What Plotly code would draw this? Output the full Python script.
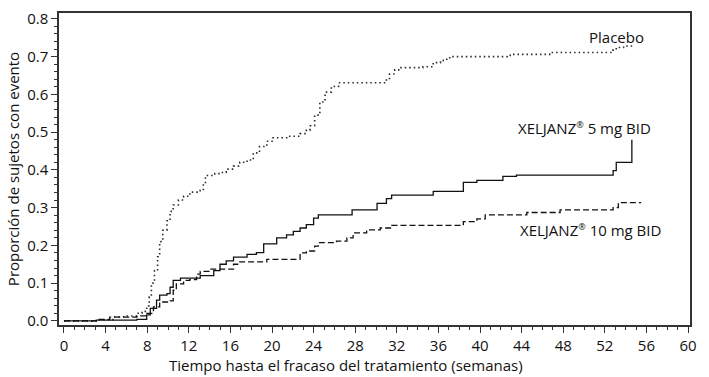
import plotly.graph_objects as go

# Placebo (dotted)
placebo_x = [0, 3.1, 4.7, 6.0, 7.0, 7.5, 7.95, 8.2, 8.4, 8.7, 9.0, 9.2, 9.5, 9.9, 10.2, 10.5, 11.0, 11.5,
             12.1, 13.1, 13.4, 13.6, 14.5, 15.0, 15.6, 16.3, 16.9, 17.6, 18.2, 18.8, 19.5, 20.1, 21.7, 22.7,
             23.3, 23.65, 24.1, 24.6, 25.1, 25.7, 26.4, 31.0, 31.3, 31.8, 32.3, 34.5, 35.5, 36.2, 36.8, 37.1,
             42.6, 42.9, 46.7, 52.8, 53.1, 53.8, 54.9]
placebo_y = [0, 0.003, 0.011, 0.013, 0.02, 0.025, 0.04, 0.063, 0.1, 0.133, 0.17, 0.21, 0.24, 0.265, 0.29,
             0.307, 0.32, 0.33, 0.341, 0.346, 0.363, 0.385, 0.39, 0.393, 0.402, 0.41, 0.42, 0.426, 0.445,
             0.462, 0.476, 0.485, 0.489, 0.496, 0.505, 0.517, 0.545, 0.58, 0.606, 0.621, 0.631, 0.642, 0.654,
             0.665, 0.671, 0.673, 0.684, 0.69, 0.697, 0.70, 0.703, 0.706, 0.711, 0.718, 0.724, 0.728, 0.728]

# XELJANZ 5 mg BID (solid)
x5_x = [0, 3.1, 7.0, 7.95, 8.3, 8.9, 9.2, 9.9, 10.2, 10.5, 11.2, 13.1, 14.4, 15.0, 15.6, 16.3, 17.6, 18.5,
        19.2, 20.45, 21.4, 22.05, 22.7, 23.3, 24.0, 24.45, 27.7, 30.1, 31.0, 31.5, 35.5, 38.4, 39.7, 42.2,
        43.5, 52.8, 53.1, 54.6]
x5_y = [0, 0.002, 0.004, 0.016, 0.033, 0.055, 0.068, 0.072, 0.089, 0.107, 0.113, 0.12, 0.133, 0.15, 0.159,
        0.169, 0.176, 0.181, 0.204, 0.22, 0.228, 0.237, 0.246, 0.255, 0.272, 0.281, 0.294, 0.311, 0.324,
        0.333, 0.343, 0.367, 0.372, 0.383, 0.386, 0.398, 0.42, 0.48]

# XELJANZ 10 mg BID (dashed)
x10_x = [0, 3.2, 4.4, 7.0, 7.95, 8.6, 9.2, 10.2, 10.5, 10.8, 11.5, 12.1, 12.75, 13.1, 14.0, 16.3, 16.9,
         19.5, 22.7, 23.3, 24.1, 24.45, 26.2, 27.2, 27.8, 29.1, 30.4, 31.5, 38.4, 39.7, 40.5, 44.5, 47.7,
         52.8, 53.3, 55.5]
x10_y = [0, 0.004, 0.01, 0.013, 0.02, 0.037, 0.05, 0.053, 0.081, 0.098, 0.107, 0.109, 0.124, 0.131, 0.137,
         0.15, 0.156, 0.163, 0.18, 0.185, 0.198, 0.207, 0.211, 0.22, 0.233, 0.241, 0.246, 0.253, 0.263,
         0.27, 0.281, 0.287, 0.294, 0.30, 0.313, 0.313]

x_ticks = list(range(0, 61, 4))
y_ticks = [0.0, 0.1, 0.2, 0.3, 0.4, 0.5, 0.6, 0.7, 0.8]

font_family = "Open Sans, Noto Sans, sans-serif"
reg = "<sup><span style='font-size:9px'>®</span></sup>"

fig = go.Figure()
fig.add_trace(go.Scatter(x=placebo_x, y=placebo_y, mode="lines", line_shape="hv",
                         line=dict(color="#2a2a2a", width=1.6, dash="1.5px,3px"), showlegend=False))
fig.add_trace(go.Scatter(x=x5_x, y=x5_y, mode="lines", line_shape="hv",
                         line=dict(color="#111111", width=1.3), showlegend=False))
fig.add_trace(go.Scatter(x=x10_x, y=x10_y, mode="lines", line_shape="hv",
                         line=dict(color="#111111", width=1.3, dash="6px,3px"), showlegend=False))

fig.add_annotation(x=53.1, y=0.753, text="Placebo", showarrow=False,
                   font=dict(size=15, color="#111111", family=font_family))
fig.add_annotation(x=50.0, y=0.511, text="XELJANZ" + reg + " 5 mg BID", showarrow=False,
                   font=dict(size=15, color="#111111", family=font_family))
fig.add_annotation(x=50.6, y=0.24, text="XELJANZ" + reg + " 10 mg BID", showarrow=False,
                   font=dict(size=15, color="#111111", family=font_family))

# x-axis title (placed slightly left of the plot centre, as in the reference)
fig.add_annotation(xref="paper", yref="paper", x=(346 - 59) / 631, y=-(366 - 325) / 317,
                   yanchor="middle", xanchor="center", showarrow=False,
                   text="Tiempo hasta el fracaso del tratamiento (semanas)",
                   font=dict(size=15, color="#111111", family=font_family))

fig.update_layout(
    width=709, height=377,
    margin=dict(l=59, r=19, t=8, b=52),
    paper_bgcolor="white", plot_bgcolor="white",
    font=dict(family=font_family, size=15, color="#111111"),
    xaxis=dict(range=[-0.48, 60.19], tickvals=x_ticks, ticks="outside", ticklen=6, tickwidth=1,
               tickcolor="#333333", showline=True, linecolor="#333333", linewidth=1.5, mirror=True,
               showgrid=False, zeroline=False,
               minor=dict(dtick=1, ticks="outside", ticklen=3, tickcolor="#333333", showgrid=False),
               tickfont=dict(size=15)),
    yaxis=dict(range=[-0.011, 0.8156], tickvals=y_ticks, tickformat=".1f", ticks="outside", ticklen=6,
               tickwidth=1, tickcolor="#333333", showline=True, linecolor="#333333", linewidth=1.5,
               mirror=True, showgrid=False, zeroline=False,
               minor=dict(dtick=0.02, ticks="outside", ticklen=3, tickcolor="#333333", showgrid=False),
               title=dict(text="Proporción de sujetos con evento", standoff=4, font=dict(size=15)),
               tickfont=dict(size=15)),
)

fig.write_html("out.html", post_script="document.body.style.margin='0px';",
               config={"displayModeBar": False})
